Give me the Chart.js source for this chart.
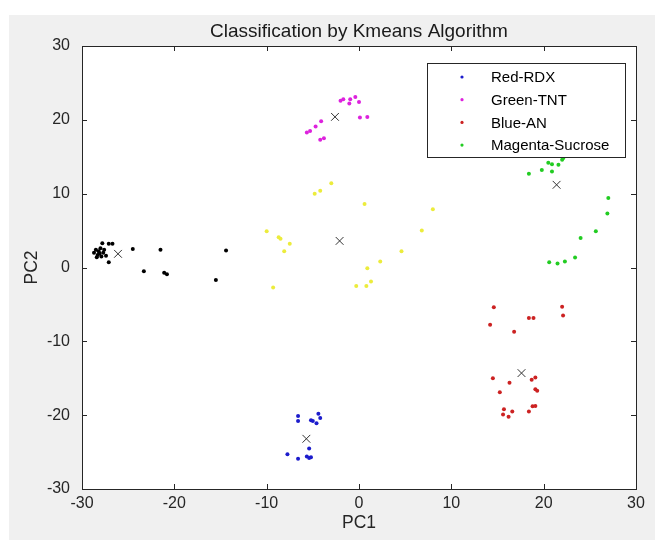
<!DOCTYPE html>
<html>
<head>
<meta charset="utf-8">
<script src="https://cdn.jsdelivr.net/npm/chart.js@4.4.1/dist/chart.umd.min.js"></script>
<style>
  html, body { margin: 0; padding: 0; background: #ffffff; }
  #wrap { width: 655px; height: 540px; }
</style>
</head>
<body>
<div id="wrap"><canvas id="myChart" width="655" height="540"></canvas></div>
<script>
// cluster points (PC1, PC2)
var rdxX = [-6.6, -6.6, -4.4, -4.2, -5.2, -5.0, -4.6, -5.4, -7.75, -6.6, -5.65, -5.4, -5.2];
var rdxY = [-20.1, -20.8, -19.8, -20.4, -20.7, -20.8, -21.1, -24.5, -25.3, -25.9, -25.6, -25.8, -25.7];

var tntX = [-2.0, -1.7, -0.95, -0.4, -1.05, 0.0, 0.1, 0.9, -4.1, -4.7, -5.3, -5.65, -4.2, -3.8];
var tntY = [22.6, 22.8, 22.8, 23.1, 22.2, 22.4, 20.3, 20.4, 19.8, 19.1, 18.5, 18.3, 17.3, 17.5];

var anX = [14.6, 14.2, 16.8, 18.4, 18.9, 22.0, 22.1, 14.5, 16.3, 18.7, 19.1, 15.25, 19.1, 19.3, 15.7, 15.6, 16.2, 16.6, 18.4, 18.8, 19.1];
var anY = [-5.4, -7.75, -8.7, -6.85, -6.85, -5.3, -6.5, -15.0, -15.6, -15.2, -14.9, -16.9, -16.5, -16.7, -19.2, -19.9, -20.2, -19.5, -19.5, -18.8, -18.75];

var sucX = [18.4, 19.8, 20.9, 20.5, 20.9, 21.6, 22.0, 22.1, 27.0, 26.9, 25.65, 24.0, 23.4, 20.6, 21.5, 22.3];
var sucY = [12.7, 13.2, 13.0, 14.2, 14.0, 13.9, 14.6, 14.8, 9.4, 7.3, 4.9, 4.0, 1.35, 0.7, 0.55, 0.8];

var yelX = [-3.0, -4.2, -4.8, 0.6, 8.0, 6.8, -10.0, -8.7, -8.5, -7.5, -8.1, 4.6, 2.3, 0.9, 1.3, 0.8, -0.3, -9.3];
var yelY = [11.4, 10.4, 10.0, 8.6, 7.9, 5.0, 4.9, 4.1, 3.9, 3.2, 2.2, 2.2, 0.8, -0.1, -1.9, -2.5, -2.5, -2.7];

var blkX = [-28.7, -28.5, -28.3, -28.2, -28.0, -27.9, -27.7, -27.6, -28.4, -28.1, -27.4, -27.8, -27.1, -26.7, -27.1, -24.5, -21.5, -14.4, -23.3, -21.1, -20.8, -15.5];
var blkY = [2.0, 2.4, 1.7, 2.2, 2.6, 1.5, 2.0, 2.4, 1.4, 1.9, 1.6, 3.3, 3.2, 3.2, 0.7, 2.5, 2.4, 2.3, -0.5, -0.7, -0.9, -1.7];

var centerX = [-5.7, -2.6, 17.6, 21.4, -2.1, -26.1];
var centerY = [-23.2, 20.4, -14.3, 11.2, 3.6, 1.85];

var legendLabels = ['Red-RDX', 'Green-TNT', 'Blue-AN', 'Magenta-Sucrose'];
var legendColors = ['#1c1ccc', '#dd22dd', '#cc2222', '#22cc22'];
var tickValues = [-30, -20, -10, 0, 10, 20, 30];
var titleText = 'Classification by Kmeans Algorithm';

function pts(xs, ys) {
    var out = [];
    for (var i = 0; i < xs.length; i++) out.push({ x: xs[i], y: ys[i] });
    return out;
}

function dots(xs, ys, color) {
    return {
        data: pts(xs, ys),
        pointRadius: 2,
        pointBorderWidth: 0,
        backgroundColor: color,
        borderColor: color,
        pointHoverRadius: 2
    };
}

var font = 'Liberation Sans, Arial, sans-serif';

var matlabFrame = {
    id: 'matlabFrame',
    beforeDraw: function (chart) {
        var ctx = chart.ctx, a = chart.chartArea;
        ctx.save();
        ctx.fillStyle = '#f0f0f0';
        ctx.fillRect(9, 15, chart.width - 9, chart.height - 15);
        ctx.fillStyle = '#ffffff';
        ctx.fillRect(a.left, a.top, a.right - a.left, a.bottom - a.top);
        // title centred over the axes, like matlab
        ctx.fillStyle = '#1a1a1a';
        ctx.font = '19px ' + font;
        ctx.textAlign = 'center';
        ctx.textBaseline = 'middle';
        ctx.fillText(titleText, (a.left + a.right) / 2, 32);
        ctx.restore();
    },
    afterDraw: function (chart) {
        var ctx = chart.ctx, a = chart.chartArea;
        var xs = chart.scales.x, ys = chart.scales.y;
        ctx.save();
        ctx.strokeStyle = '#262626';
        ctx.lineWidth = 1;
        ctx.strokeRect(Math.round(a.left) + 0.5, Math.round(a.top) + 0.5,
            Math.round(a.right - a.left), Math.round(a.bottom - a.top));
        ctx.beginPath();
        tickValues.forEach(function (v) {
            var px = Math.round(xs.getPixelForValue(v)) + 0.5;
            ctx.moveTo(px, a.bottom); ctx.lineTo(px, a.bottom - 5);
            ctx.moveTo(px, a.top); ctx.lineTo(px, a.top + 5);
            var py = Math.round(ys.getPixelForValue(v)) + 0.5;
            ctx.moveTo(a.left, py); ctx.lineTo(a.left + 5, py);
            ctx.moveTo(a.right, py); ctx.lineTo(a.right - 5, py);
        });
        ctx.stroke();

        // legend box inside the axes, top right
        var lx = 427.5, ly = 63.5, lw = 198, lh = 94;
        ctx.fillStyle = '#ffffff';
        ctx.fillRect(lx, ly, lw, lh);
        ctx.strokeStyle = '#262626';
        ctx.strokeRect(lx, ly, lw, lh);
        ctx.font = '15px ' + font;
        ctx.textBaseline = 'middle';
        ctx.textAlign = 'left';
        legendLabels.forEach(function (t, i) {
            var cy = 77 + i * 22.7;
            ctx.fillStyle = legendColors[i];
            ctx.beginPath();
            ctx.arc(462, cy, 1.6, 0, Math.PI * 2);
            ctx.fill();
            ctx.fillStyle = '#000000';
            ctx.fillText(t, 491, cy + 1);
        });
        ctx.restore();
    }
};

var ctx = document.getElementById('myChart').getContext('2d');
var myChart = new Chart(ctx, {
    type: 'scatter',
    data: {
        datasets: [
            dots(rdxX, rdxY, legendColors[0]),
            dots(tntX, tntY, legendColors[1]),
            dots(anX, anY, legendColors[2]),
            dots(sucX, sucY, legendColors[3]),
            dots(yelX, yelY, '#ecec3c'),
            dots(blkX, blkY, '#000000'),
            {
                data: pts(centerX, centerY),
                pointStyle: 'crossRot',
                pointRadius: 5.5,
                pointHoverRadius: 5.5,
                borderWidth: 1,
                borderColor: '#333333',
                backgroundColor: '#333333'
            }
        ]
    },
    options: {
        responsive: false,
        animation: false,
        devicePixelRatio: 1,
        layout: { padding: { left: 0, right: 19, top: 46, bottom: 0 } },
        plugins: {
            legend: { display: false },
            tooltip: { enabled: false },
            title: { display: false }
        },
        scales: {
            x: {
                type: 'linear',
                min: -30, max: 30,
                grid: { display: false, drawTicks: false },
                border: { display: false },
                afterFit: function (s) { s.height = 51; },
                afterBuildTicks: function (s) { s.ticks = tickValues.map(function (v) { return { value: v }; }); },
                ticks: { color: '#262626', font: { family: font, size: 16 }, padding: 5, maxRotation: 0 },
                title: {
                    display: true, text: 'PC1', color: '#262626',
                    font: { family: font, size: 17.5 }, padding: { top: 0, bottom: 6 }
                }
            },
            y: {
                type: 'linear',
                min: -30, max: 30,
                grid: { display: false, drawTicks: false },
                border: { display: false },
                afterFit: function (s) { s.width = 82; },
                afterBuildTicks: function (s) { s.ticks = tickValues.map(function (v) { return { value: v }; }); },
                ticks: { color: '#262626', font: { family: font, size: 16 }, padding: 12 },
                title: {
                    display: true, text: 'PC2', color: '#262626',
                    font: { family: font, size: 17.5 }, padding: { top: 22, bottom: 0 }
                }
            }
        }
    },
    plugins: [matlabFrame]
});
</script>
</body>
</html>
